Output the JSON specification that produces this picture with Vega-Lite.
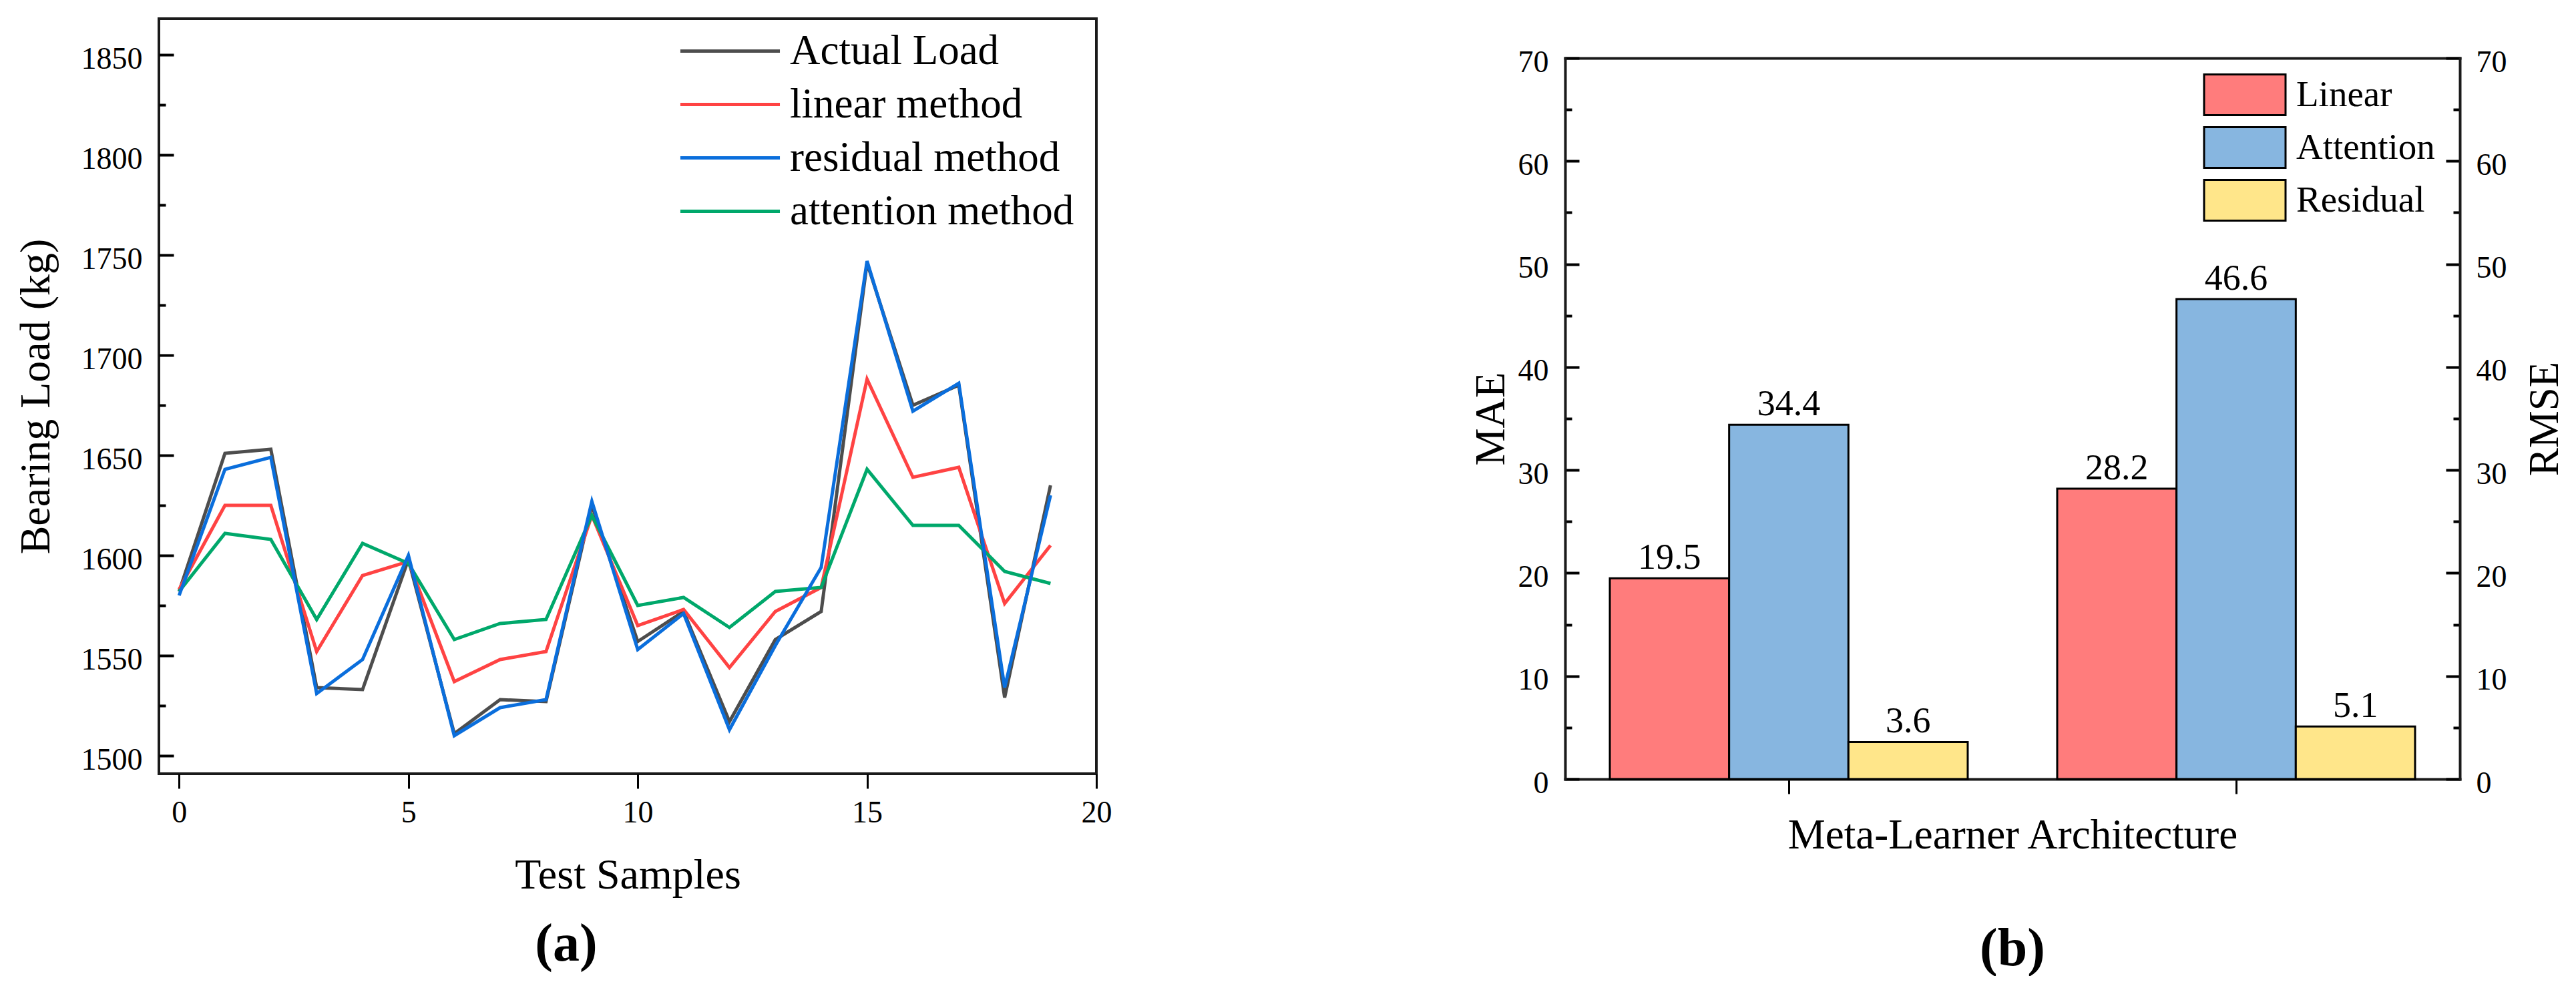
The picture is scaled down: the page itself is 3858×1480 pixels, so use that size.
{
  "$schema": "https://vega.github.io/schema/vega-lite/v6.json",
  "background": "white",
  "padding": {"left": 20, "top": 26, "right": 0, "bottom": 0},
  "spacing": 535,
  "resolve": {"scale": {"color": "independent"}, "legend": {"color": "independent"}},
  "hconcat": [
    {
      "width": 1404,
      "height": 1131,
      "title": {"text": "(a)", "orient": "bottom", "fontSize": 80, "fontWeight": "bold", "dx": -92, "offset": 33},
      "data": {
        "values": [
          {"sample": 0, "series": "Actual Load", "load": 1582}, {"sample": 1, "series": "Actual Load", "load": 1651},
          {"sample": 2, "series": "Actual Load", "load": 1653}, {"sample": 3, "series": "Actual Load", "load": 1534},
          {"sample": 4, "series": "Actual Load", "load": 1533}, {"sample": 5, "series": "Actual Load", "load": 1598},
          {"sample": 6, "series": "Actual Load", "load": 1511}, {"sample": 7, "series": "Actual Load", "load": 1528},
          {"sample": 8, "series": "Actual Load", "load": 1527}, {"sample": 9, "series": "Actual Load", "load": 1625},
          {"sample": 10, "series": "Actual Load", "load": 1557}, {"sample": 11, "series": "Actual Load", "load": 1572},
          {"sample": 12, "series": "Actual Load", "load": 1517}, {"sample": 13, "series": "Actual Load", "load": 1558},
          {"sample": 14, "series": "Actual Load", "load": 1572}, {"sample": 15, "series": "Actual Load", "load": 1746},
          {"sample": 16, "series": "Actual Load", "load": 1675}, {"sample": 17, "series": "Actual Load", "load": 1685},
          {"sample": 18, "series": "Actual Load", "load": 1529}, {"sample": 19, "series": "Actual Load", "load": 1635},
          {"sample": 0, "series": "linear method", "load": 1583}, {"sample": 1, "series": "linear method", "load": 1625},
          {"sample": 2, "series": "linear method", "load": 1625}, {"sample": 3, "series": "linear method", "load": 1552},
          {"sample": 4, "series": "linear method", "load": 1590}, {"sample": 5, "series": "linear method", "load": 1597},
          {"sample": 6, "series": "linear method", "load": 1537}, {"sample": 7, "series": "linear method", "load": 1548},
          {"sample": 8, "series": "linear method", "load": 1552}, {"sample": 9, "series": "linear method", "load": 1620},
          {"sample": 10, "series": "linear method", "load": 1565}, {"sample": 11, "series": "linear method", "load": 1573},
          {"sample": 12, "series": "linear method", "load": 1544}, {"sample": 13, "series": "linear method", "load": 1572},
          {"sample": 14, "series": "linear method", "load": 1584}, {"sample": 15, "series": "linear method", "load": 1688},
          {"sample": 16, "series": "linear method", "load": 1639}, {"sample": 17, "series": "linear method", "load": 1644},
          {"sample": 18, "series": "linear method", "load": 1576}, {"sample": 19, "series": "linear method", "load": 1605},
          {"sample": 0, "series": "attention method", "load": 1582}, {"sample": 1, "series": "attention method", "load": 1611},
          {"sample": 2, "series": "attention method", "load": 1608}, {"sample": 3, "series": "attention method", "load": 1568},
          {"sample": 4, "series": "attention method", "load": 1606}, {"sample": 5, "series": "attention method", "load": 1596},
          {"sample": 6, "series": "attention method", "load": 1558}, {"sample": 7, "series": "attention method", "load": 1566},
          {"sample": 8, "series": "attention method", "load": 1568}, {"sample": 9, "series": "attention method", "load": 1620},
          {"sample": 10, "series": "attention method", "load": 1575}, {"sample": 11, "series": "attention method", "load": 1579},
          {"sample": 12, "series": "attention method", "load": 1564}, {"sample": 13, "series": "attention method", "load": 1582},
          {"sample": 14, "series": "attention method", "load": 1584}, {"sample": 15, "series": "attention method", "load": 1643},
          {"sample": 16, "series": "attention method", "load": 1615}, {"sample": 17, "series": "attention method", "load": 1615},
          {"sample": 18, "series": "attention method", "load": 1592}, {"sample": 19, "series": "attention method", "load": 1586},
          {"sample": 0, "series": "residual method", "load": 1580}, {"sample": 1, "series": "residual method", "load": 1643},
          {"sample": 2, "series": "residual method", "load": 1649}, {"sample": 3, "series": "residual method", "load": 1531},
          {"sample": 4, "series": "residual method", "load": 1548}, {"sample": 5, "series": "residual method", "load": 1600},
          {"sample": 6, "series": "residual method", "load": 1510}, {"sample": 7, "series": "residual method", "load": 1524},
          {"sample": 8, "series": "residual method", "load": 1528}, {"sample": 9, "series": "residual method", "load": 1627},
          {"sample": 10, "series": "residual method", "load": 1553}, {"sample": 11, "series": "residual method", "load": 1571},
          {"sample": 12, "series": "residual method", "load": 1513}, {"sample": 13, "series": "residual method", "load": 1555},
          {"sample": 14, "series": "residual method", "load": 1594}, {"sample": 15, "series": "residual method", "load": 1747},
          {"sample": 16, "series": "residual method", "load": 1672}, {"sample": 17, "series": "residual method", "load": 1686},
          {"sample": 18, "series": "residual method", "load": 1534}, {"sample": 19, "series": "residual method", "load": 1630}
        ]
      },
      "mark": {"type": "line", "strokeWidth": 5},
      "encoding": {
        "x": {
          "field": "sample", "type": "quantitative",
          "scale": {"domain": [-0.44, 20], "nice": false, "zero": false},
          "axis": {
            "values": [0, 5, 10, 15, 20], "grid": false, "domain": false,
            "tickSize": 22, "tickWidth": 3, "tickColor": "black",
            "labelFontSize": 46, "labelPadding": 14, "labelFlush": false, "labelOverlap": false,
            "title": "Test Samples", "titleFontSize": 64, "titlePadding": 39
          }
        },
        "y": {
          "field": "load", "type": "quantitative",
          "scale": {"domain": [1491, 1868], "nice": false, "zero": false},
          "axis": {
            "values": [1500, 1525, 1550, 1575, 1600, 1625, 1650, 1675, 1700, 1725, 1750, 1775, 1800, 1825, 1850],
            "format": "d",
            "labelExpr": "datum.value % 50 === 0 ? datum.label : ''",
            "grid": false, "domain": false,
            "tickSize": {"condition": {"test": "datum.value % 50 === 0", "value": -22}, "value": -10},
            "tickWidth": 4, "tickColor": "black",
            "labelFontSize": 46, "labelPadding": 47, "labelOffset": 6, "labelOverlap": false,
            "title": "Bearing Load (kg)", "titleFontSize": 64, "titlePadding": 35
          }
        },
        "color": {
          "field": "series", "type": "nominal",
          "scale": {
            "domain": ["Actual Load", "linear method", "residual method", "attention method"],
            "range": ["#4d4d4d", "#ff4343", "#0a6edc", "#00a86b"]
          },
          "legend": {
            "title": null, "orient": "none", "legendX": 824, "legendY": 17, "padding": 0,
            "symbolType": "M-2.57,0H2.57", "symbolSize": 3364, "symbolStrokeWidth": 5,
            "labelFontSize": 63, "labelOffset": 58, "labelLimit": 0, "rowPadding": 16
          }
        }
      }
    },
    {
      "width": 1340,
      "height": 1139,
      "view": {"stroke": null},
      "title": {"text": "(b)", "orient": "bottom", "fontSize": 80, "fontWeight": "bold", "offset": 99},
      "data": {
        "values": [
          {"metric": "MAE", "method": "Linear", "value": 19.5},
          {"metric": "MAE", "method": "Attention", "value": 34.4},
          {"metric": "MAE", "method": "Residual", "value": 3.6},
          {"metric": "RMSE", "method": "Linear", "value": 28.2},
          {"metric": "RMSE", "method": "Attention", "value": 46.6},
          {"metric": "RMSE", "method": "Residual", "value": 5.1}
        ]
      },
      "layer": [
        {
          "mark": {"type": "bar", "stroke": "black", "strokeWidth": 3},
          "encoding": {
            "x": {
              "field": "metric", "type": "nominal",
              "scale": {"paddingInner": 0.2, "paddingOuter": 0.1},
              "axis": {
                "orient": "bottom", "labels": false,
                "domain": true, "domainColor": "#1a1a1a", "domainWidth": 4, "domainCap": "square",
                "tickSize": 22, "tickWidth": 3, "tickColor": "black",
                "title": "Meta-Learner Architecture", "titleFontSize": 63, "titlePadding": 30
              }
            },
            "xOffset": {
              "field": "method", "type": "nominal",
              "scale": {"domain": ["Linear", "Attention", "Residual"], "paddingInner": 0, "paddingOuter": 0}
            },
            "y": {
              "field": "value", "type": "quantitative",
              "scale": {"domain": [0, 70], "range": [1139, 59], "nice": false},
              "axis": {
                "orient": "left",
                "values": [0, 5, 10, 15, 20, 25, 30, 35, 40, 45, 50, 55, 60, 65, 70],
                "labelExpr": "datum.value % 10 === 0 ? datum.label : ''",
                "grid": false,
                "domain": true, "domainColor": "#1a1a1a", "domainWidth": 4, "domainCap": "square",
                "tickSize": {"condition": {"test": "datum.value % 10 === 0", "value": -21}, "value": -10},
                "tickWidth": 4, "tickColor": "black",
                "labelFontSize": 46, "labelPadding": 46, "labelOffset": 6, "labelOverlap": false,
                "title": "MAE", "titleFontSize": 63, "titlePadding": 8
              }
            },
            "color": {
              "field": "method", "type": "nominal",
              "scale": {"domain": ["Linear", "Attention", "Residual"], "range": ["#ff7c7c", "#87b6e0", "#ffe68a"]},
              "legend": {
                "title": null, "orient": "none", "legendX": 986, "legendY": 82, "padding": 0,
                "symbolType": "M-2,-1H2V1H-2Z", "symbolSize": 3721, "symbolStrokeColor": "black", "symbolStrokeWidth": 3,
                "labelFontSize": 55, "labelOffset": 45, "labelLimit": 0, "rowPadding": 5
              }
            }
          }
        },
        {
          "mark": {"type": "text", "baseline": "alphabetic", "dy": -14, "fontSize": 54, "color": "black"},
          "encoding": {
            "x": {
              "field": "metric", "type": "nominal",
              "axis": {
                "orient": "top", "labels": false, "ticks": false, "title": null,
                "domain": true, "domainColor": "#1a1a1a", "domainWidth": 4, "domainCap": "square", "offset": -59
              }
            },
            "xOffset": {"field": "method", "type": "nominal", "scale": {"domain": ["Linear", "Attention", "Residual"]}},
            "y": {
              "field": "value", "type": "quantitative",
              "axis": {
                "orient": "right",
                "values": [0, 5, 10, 15, 20, 25, 30, 35, 40, 45, 50, 55, 60, 65, 70],
                "labelExpr": "datum.value % 10 === 0 ? datum.label : ''",
                "grid": false,
                "domain": true, "domainColor": "#1a1a1a", "domainWidth": 4, "domainCap": "square",
                "tickSize": {"condition": {"test": "datum.value % 10 === 0", "value": -21}, "value": -10},
                "tickWidth": 4, "tickColor": "black",
                "labelFontSize": 46, "labelPadding": 45, "labelOffset": 6, "labelOverlap": false,
                "title": "RMSE", "titleFontSize": 63, "titleAngle": 270, "titleBaseline": "top", "titlePadding": 26
              }
            },
            "text": {"field": "value", "type": "quantitative", "format": ".1f"}
          }
        }
      ],
      "resolve": {"axis": {"x": "independent", "y": "independent"}}
    }
  ],
  "config": {
    "font": "Liberation Serif",
    "view": {"stroke": "#1a1a1a", "strokeWidth": 4},
    "axis": {"labelColor": "black", "titleColor": "black", "titleFontWeight": "normal"},
    "title": {"color": "black"},
    "legend": {"labelColor": "black"}
  }
}
